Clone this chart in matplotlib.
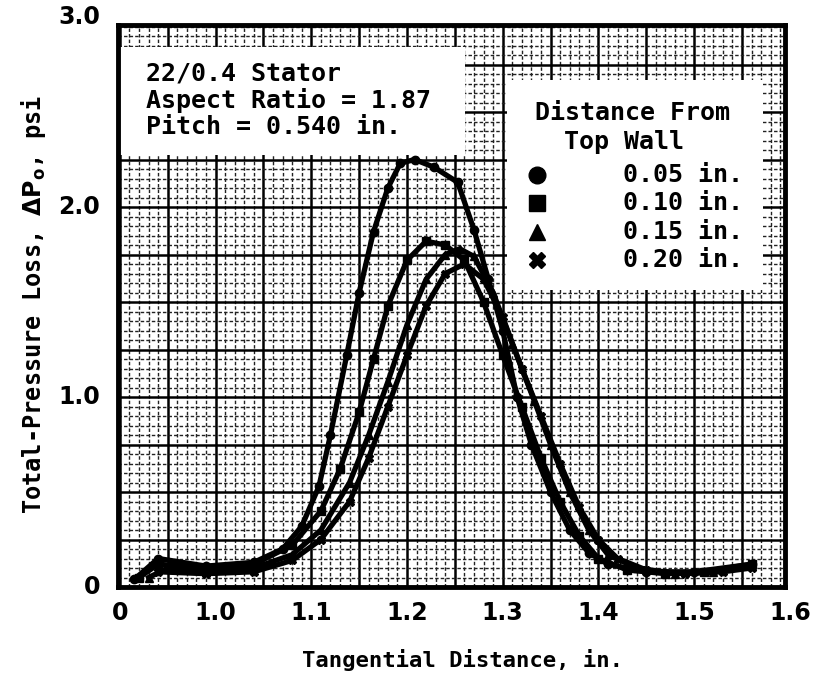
import matplotlib.pyplot as plt
import numpy as np
from matplotlib.ticker import MultipleLocator
from matplotlib.patches import Rectangle

# traced curves and data points, one set per distance from the top wall
x_05 = [0.915, 0.94, 0.99, 1.04, 1.07, 1.09, 1.108, 1.12, 1.137, 1.15, 1.165, 1.18, 1.193, 1.208,
        1.228, 1.253, 1.27, 1.285, 1.30, 1.315, 1.33, 1.35, 1.37, 1.39, 1.41, 1.45, 1.50, 1.56]
y_05 = [0.04, 0.15, 0.11, 0.13, 0.20, 0.32, 0.53, 0.80, 1.22, 1.55, 1.87, 2.10, 2.23, 2.25,
        2.21, 2.13, 1.88, 1.62, 1.35, 1.00, 0.75, 0.50, 0.30, 0.18, 0.12, 0.08, 0.08, 0.12]

x_10 = [0.92, 0.94, 0.99, 1.04, 1.08, 1.11, 1.13, 1.15, 1.165, 1.18, 1.20, 1.22, 1.24, 1.26,
        1.28, 1.30, 1.32, 1.34, 1.36, 1.38, 1.40, 1.43, 1.47, 1.51, 1.56]
y_10 = [0.05, 0.12, 0.10, 0.12, 0.22, 0.40, 0.62, 0.92, 1.20, 1.48, 1.72, 1.82, 1.80, 1.72,
        1.50, 1.22, 0.95, 0.68, 0.45, 0.27, 0.15, 0.09, 0.07, 0.08, 0.12]

x_15 = [0.93, 0.95, 0.99, 1.04, 1.08, 1.11, 1.14, 1.16, 1.18, 1.20, 1.22, 1.24, 1.255, 1.27,
        1.29, 1.31, 1.333, 1.35, 1.37, 1.39, 1.41, 1.44, 1.48, 1.52, 1.56]
y_15 = [0.05, 0.10, 0.09, 0.10, 0.17, 0.30, 0.55, 0.80, 1.08, 1.38, 1.62, 1.75, 1.78, 1.74,
        1.55, 1.28, 0.98, 0.75, 0.50, 0.30, 0.17, 0.10, 0.07, 0.08, 0.11]

x_20 = [0.94, 0.99, 1.04, 1.08, 1.11, 1.14, 1.16, 1.18, 1.20, 1.22, 1.24, 1.26, 1.28, 1.30,
        1.32, 1.34, 1.36, 1.38, 1.40, 1.42, 1.45, 1.49, 1.53, 1.56]
y_20 = [0.08, 0.07, 0.08, 0.14, 0.25, 0.45, 0.68, 0.95, 1.22, 1.48, 1.65, 1.70, 1.62, 1.42,
        1.15, 0.90, 0.65, 0.42, 0.25, 0.15, 0.09, 0.07, 0.08, 0.10]

series = [(x_05, y_05, 'o', '0.05 in.'),
          (x_10, y_10, 's', '0.10 in.'),
          (x_15, y_15, '^', '0.15 in.'),
          (x_20, y_20, 'X', '0.20 in.')]

xtick_vals = [0.9, 1.0, 1.1, 1.2, 1.3, 1.4, 1.5, 1.6]
xtick_text = ['0', '1.0', '1.1', '1.2', '1.3', '1.4', '1.5', '1.6']
ytick_vals = [0, 1.0, 2.0, 3.0]
ytick_text = ['0', '1.0', '2.0', '3.0']

note_lines = ['22/0.4 Stator', 'Aspect Ratio = 1.87', 'Pitch = 0.540 in.']

mono = 'DejaVu Sans Mono'

fig = plt.figure(figsize=(8.23, 6.83), dpi=100)
ax = fig.add_axes([118/823, (683-587)/683, 667/823, 562/683])
ax.set_xlim(0.898, 1.595)
ax.set_ylim(0, 2.958)

# graph paper
ax.xaxis.set_major_locator(MultipleLocator(0.05))
ax.xaxis.set_minor_locator(MultipleLocator(0.01))
ax.yaxis.set_major_locator(MultipleLocator(0.25))
ax.yaxis.set_minor_locator(MultipleLocator(0.05))
ax.grid(which='major', color='black', lw=1.8)
ax.grid(which='minor', color='#222222', lw=1.0, ls=(0, (2.5, 1.5)))
ax.set_axisbelow(True)
ax.tick_params(which='both', length=0, labelbottom=False, labelleft=False)
for s in ax.spines.values():
    s.set_linewidth(3.5)

for xs, ys, m, lab in series:
    ax.plot(xs, ys, color='black', lw=3.8, marker=m, ms=6, zorder=3)

# tick labels (1.6 and 3.0 sit just past the frame)
for v, t in zip(xtick_vals, xtick_text):
    ax.text(v, -0.025, t, transform=ax.get_xaxis_transform(), ha='center', va='top',
            fontsize=17, fontweight='bold', clip_on=False)
for v, t in zip(ytick_vals, ytick_text):
    ax.text(-0.027, v, t, transform=ax.get_yaxis_transform(), ha='right', va='center',
            fontsize=17, fontweight='bold', clip_on=False)

fig.text(462/823, 1 - 660/683, 'Tangential Distance, in.', ha='center', va='center',
         fontsize=16, fontweight='bold', family=mono)
fig.text(34/823, 1 - 305/683, r'Total-Pressure Loss, $\mathbf{\Delta P_o}$, psi',
         rotation=90, ha='center', va='center', fontsize=17, fontweight='bold', family=mono)

# note box, top left
ax.add_patch(Rectangle((0, 0.769), 0.52, 0.192, transform=ax.transAxes,
                       facecolor='white', edgecolor='none', zorder=2))
ax.text(0.042, 0.935, '\n'.join(note_lines), transform=ax.transAxes, va='top', ha='left',
        fontsize=18, fontweight='bold', family=mono, linespacing=1.12, zorder=4)

# legend box
ax.add_patch(Rectangle((0.583, 0.528), 0.384, 0.374, transform=ax.transAxes,
                       facecolor='white', edgecolor='none', zorder=4))
ax.text(0.771, 0.843, 'Distance From', transform=ax.transAxes, ha='center', va='center',
        fontsize=18, fontweight='bold', family=mono, zorder=5)
ax.text(0.759, 0.792, 'Top Wall', transform=ax.transAxes, ha='center', va='center',
        fontsize=18, fontweight='bold', family=mono, zorder=5)
row_y = [0.733, 0.683, 0.632, 0.582]
for (_, _, m, lab), ry in zip(series, row_y):
    ax.plot([0.628], [ry], transform=ax.transAxes, marker=m, color='black', ms=12,
            ls='none', zorder=5, clip_on=False)
    ax.text(0.757, ry, lab, transform=ax.transAxes, ha='left', va='center',
            fontsize=18, fontweight='bold', family=mono, zorder=5)

fig.savefig('out.png', dpi=100)
